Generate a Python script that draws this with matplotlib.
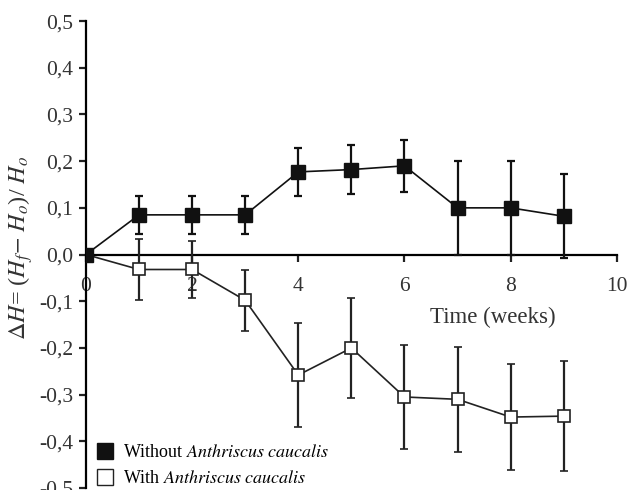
import matplotlib
matplotlib.use("Agg")
import matplotlib.pyplot as plt
from matplotlib.lines import Line2D

plt.rcParams['font.family'] = ['Liberation Serif', 'DejaVu Serif']
plt.rcParams['mathtext.fontset'] = 'stix'

weeks = [0, 1, 2, 3, 4, 5, 6, 7, 8, 9]
without_ac = [0.0, 0.085, 0.085, 0.085, 0.177, 0.182, 0.19, 0.10, 0.10, 0.082]
without_err = [0.0, 0.040, 0.040, 0.040, 0.052, 0.053, 0.055, 0.100, 0.100, 0.090]
with_ac = [0.0, -0.032, -0.032, -0.098, -0.258, -0.200, -0.305, -0.310, -0.348, -0.346]
with_err = [0.0, 0.066, 0.062, 0.065, 0.112, 0.107, 0.112, 0.112, 0.113, 0.118]

xticks = [0, 2, 4, 6, 8, 10]
yticks = [-0.5, -0.4, -0.3, -0.2, -0.1, 0.0, 0.1, 0.2, 0.3, 0.4, 0.5]
ytick_labels = ['-0,5', '-0,4', '-0,3', '-0,2', '-0,1', '0,0', '0,1', '0,2', '0,3', '0,4', '0,5']

fig = plt.figure(figsize=(6.32, 4.9), dpi=100)
ax = fig.add_axes([0.136, 0.004, 0.84, 0.953])

ax.errorbar(weeks, with_ac, yerr=with_err, color='#222222', lw=1.2, marker='s',
            ms=8.5, mfc='white', mec='#222222', mew=1.2, capsize=3, elinewidth=1.6,
            capthick=1.6, zorder=3)
ax.errorbar(weeks, without_ac, yerr=without_err, color='#111111', lw=1.2, marker='s',
            ms=9.5, mfc='#111111', mec='#111111', capsize=3, elinewidth=1.6,
            capthick=1.6, zorder=4)

ax.set_xlim(0, 10)
ax.set_ylim(-0.5, 0.5)
ax.spines['top'].set_visible(False)
ax.spines['right'].set_visible(False)
ax.spines['bottom'].set_position(('data', 0))
ax.spines['left'].set_linewidth(1.6)
ax.spines['bottom'].set_linewidth(1.6)
ax.set_xticks(xticks)
ax.set_xticklabels([str(t) for t in xticks])
ax.set_yticks(yticks)
ax.set_yticklabels(ytick_labels)
ax.tick_params(axis='both', labelsize=15.5, width=1.6, length=5, colors='#222222', labelcolor='#333333')
ax.tick_params(axis='x', pad=11)
ax.tick_params(axis='y', pad=4)

ax.text(7.66, -0.135, 'Time (weeks)', fontsize=16.5, ha='center', va='center', color='#333333')
fig.text(0.032, 0.495, r'$\Delta H$= ($H_f$$-$ $H_o$)/ $H_o$', rotation=90,
         fontsize=17.5, ha='center', va='center', color='#333333')

handles = [Line2D([], [], ls='none', marker='s', ms=11, mfc='#111111', mec='#111111'),
           Line2D([], [], ls='none', marker='s', ms=11, mfc='white', mec='#222222')]
labels = [r'Without $\it{Anthriscus\ caucalis}$', r'With $\it{Anthriscus\ caucalis}$']
ax.legend(handles, labels, loc='lower left', bbox_to_anchor=(0.0, -0.02), frameon=False,
          fontsize=13, handletextpad=0.5, labelspacing=0.5, borderaxespad=0.15,
          handlelength=1.0)

fig.savefig('out.png', dpi=100)
